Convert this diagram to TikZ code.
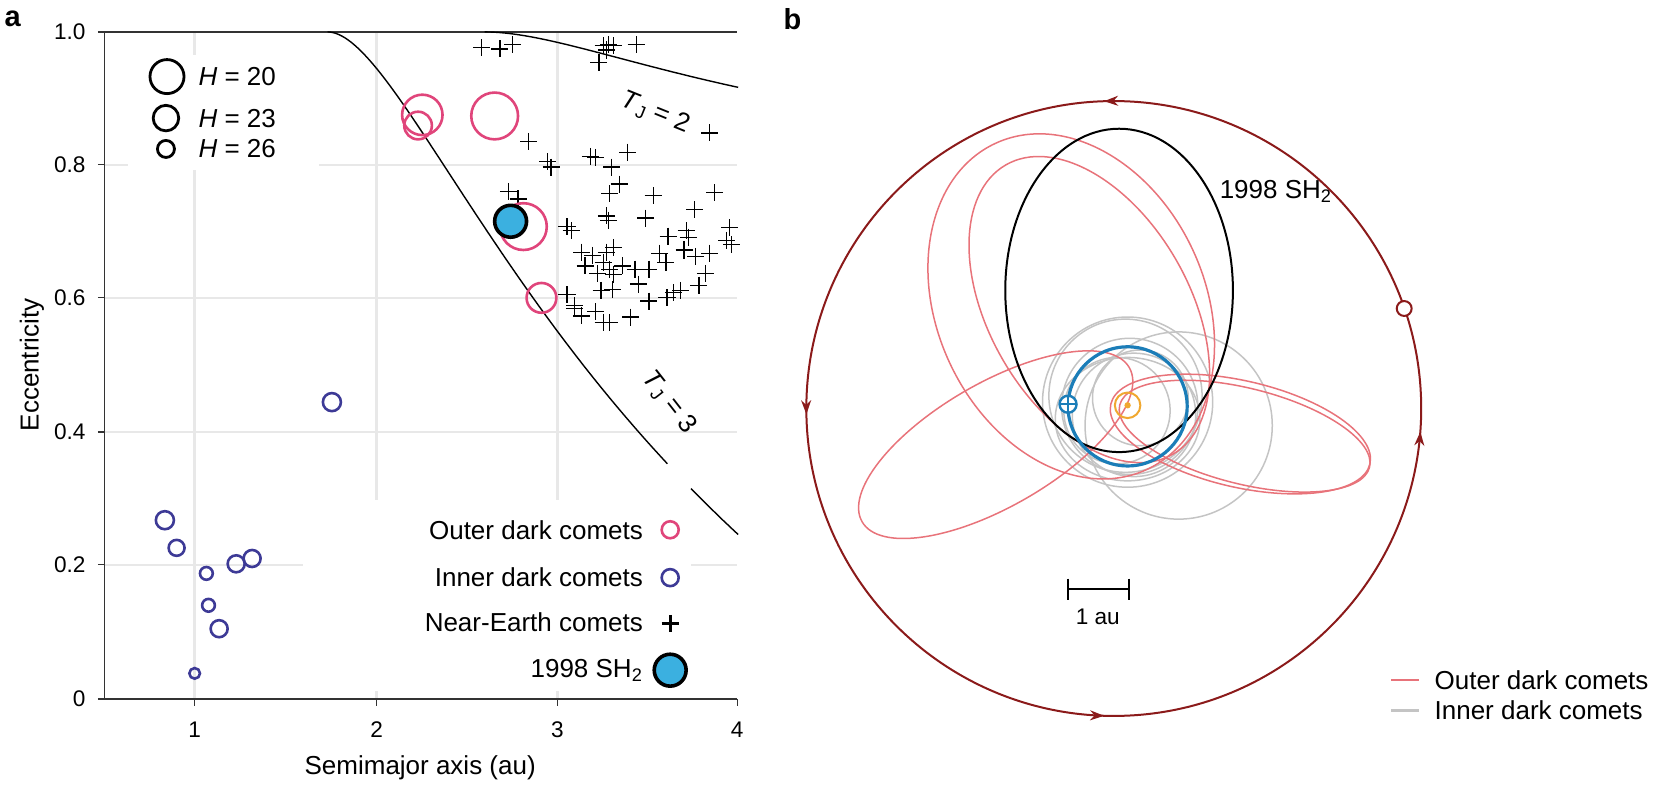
\documentclass[tikz,border=0pt]{standalone}
\usepackage{fontspec}
\setmainfont{Liberation Sans}
\usetikzlibrary{arrows.meta,decorations.markings}
\definecolor{odcPink}{HTML}{E0457B}
\definecolor{idcBlue}{HTML}{3D3A96}
\definecolor{shFill}{HTML}{3BB0E0}
\definecolor{orbRed}{HTML}{E8737A}
\definecolor{orbGray}{HTML}{C4C4C4}
\definecolor{earthBlue}{HTML}{1B7DB8}
\definecolor{sunOrange}{HTML}{F0A830}
\definecolor{jupRed}{HTML}{8B1A1A}
\tikzset{
	gridLine/.style={
		draw=black!9
		,line width=1.2pt
	},
	axisLine/.style={
		draw=black!80
		,line width=0.6pt
	},
	tickLbl/.style={
		font=\fontsize{11.3}{13}\selectfont
	},
	lblText/.style={
		font=\fontsize{13}{15}\selectfont
	},
	odcMark/.style={
		draw=odcPink
		,line width=1.3pt
	},
	idcMark/.style={
		draw=idcBlue
		,line width=1.3pt
	},
	hMark/.style={
		draw=black
		,line width=1.4pt
	},
	necMark/.style={
		draw=black
		,line width=0.6pt
	},
	tjCurve/.style={
		draw=black
		,line width=0.7pt
	},
	odcOrbit/.style={
		draw=orbRed
		,line width=0.75pt
	},
	idcOrbit/.style={
		draw=orbGray
		,line width=0.75pt
	},
	jupTip/.style={
		decoration={markings,
		mark=at position 0.012 with {\arrowreversed{Stealth[length=7pt,width=5pt]}},
		mark=at position 0.255 with {\arrowreversed{Stealth[length=7pt,width=5pt]}},
		mark=at position 0.497 with {\arrowreversed{Stealth[length=7pt,width=5pt]}},
		mark=at position 0.745 with {\arrowreversed{Stealth[length=7pt,width=5pt]}}}
		,postaction={decorate}
	},
}
\begin{document}
\begin{tikzpicture}[x=0.532pt, y=-0.532pt]
\useasboundingbox (0,0) rectangle (1568,739);

% panel labels
\node[font=\fontsize{14.5}{16}\selectfont\bfseries] (pa) at (12,18) {a};
\node[font=\fontsize{14.5}{16}\selectfont\bfseries] (pb) at (745,18) {b};

% ---- panel a: grid
\foreach \gx in {183,354,524}
    \draw[gridLine] (\gx,30) -- (\gx,657);
\foreach \gy in {155,280,406,531}
    \draw[gridLine] (98,\gy) -- (693,\gy);
\fill[white] (120,52) rectangle (300,160);
\fill[white] (285,470) rectangle (650,650);

% axes
\draw[axisLine] (98,30) -- (98,657) -- (693,657);
\draw[axisLine] (98,30) -- (693,30);
\foreach \tv/\ty in {0/657,0.2/531,0.4/406,0.6/280,0.8/155,1.0/30} {
    \draw[axisLine] (92,\ty) -- (98,\ty);
    \node[tickLbl, anchor=east] (yt\ty) at (87,\ty) {\tv};
}
\foreach \tv/\tx in {1/183,2/354,3/524,4/693} {
    \draw[axisLine] (\tx,657) -- (\tx,664);
    \node[tickLbl] (xt\tv) at (\tx,686) {\tv};
}
\node[lblText, rotate=90] (ylab) at (30,343) {Eccentricity};
\node[lblText] (xlab) at (395,722) {Semimajor axis (au)};

% Tisserand curves
\draw[tjCurve] plot[domain=1.7335:3.61, samples=120, smooth]
    ({183+(\x-1)*170.3},{657-627*sqrt(1-(3-5.2/\x)^2*5.2/(4*\x))});
\draw[tjCurve] plot[domain=3.74:4, samples=20, smooth]
    ({183+(\x-1)*170.3},{657-627*sqrt(1-(3-5.2/\x)^2*5.2/(4*\x))});
\draw[tjCurve] plot[domain=2.6:4, samples=60, smooth]
    ({183+(\x-1)*170.3},{657-627*sqrt(1-(2-5.2/\x)^2*5.2/(4*\x))});
\node[lblText, rotate=-22] (tj2) at (616,106) {\textit{T}\textsubscript{J} = 2};
\node[lblText, rotate=-52] (tj3) at (629,378) {\textit{T}\textsubscript{J} = 3};

% near-Earth comets
\foreach \cx/\cy in {453/45,470/46,482/42,567/43,572/42,577/43,598/42,563/59,570/47,
    667/125,497/133,515/152,518/157,555/147,560/148,590/143,575/157,582/173,573/182,
    478/180,487/187,653/197,570/203,572/207,645/217,647/223,533/213,537/217,643/235,
    667/238,688/230,547/237,557/240,570/237,577/233,550/250,567/247,573/253,562/257,
    577/258,597/253,610/253,600/267,565/273,610/283,627/280,633/275,640/273,657/268,
    663/257,533/277,540/287,547/297,567/303,573/303,593/298,614/184,607/205,628/222,
    620/238,626/247,672/181,686/214,683/226,654/241,585/250,576/272,540/290,560/293}
    \draw[necMark] (\cx-8,\cy) -- (\cx+8,\cy) (\cx,\cy-8) -- (\cx,\cy+8);

% outer dark comets
\draw[odcMark] (397,108) circle (19);
\draw[odcMark] (393,118) circle (13);
\draw[odcMark] (465,109) circle (22);
\draw[odcMark] (492,213) circle (22);
\draw[odcMark] (509,280) circle (14);
% inner dark comets
\foreach \ix/\iy/\ir in {312/378/8.5,155/489/8.5,166/515/7.5,194/539/6,196/569/6,
    206/591/8,222/530/8,237/525/8,183/633/5}
    \draw[idcMark] (\ix,\iy) circle (\ir);
% 1998 SH2
\draw[hMark, fill=shFill, line width=1.8pt] (480,208) circle (15);

% size legend
\draw[hMark] (157,72) circle (16);
\draw[hMark] (156,111) circle (12);
\draw[hMark] (156,140) circle (8);
\node[lblText, anchor=west] (h20) at (180,72) {\textit{H} = 20};
\node[lblText, anchor=west] (h23) at (180,111) {\textit{H} = 23};
\node[lblText, anchor=west] (h26) at (180,140) {\textit{H} = 26};

% type legend
\node[lblText, anchor=east] (lodc) at (611,498) {Outer dark comets};
\node[lblText, anchor=east] (lidc) at (611,543) {Inner dark comets};
\node[lblText, anchor=east] (lnec) at (611,585) {Near-Earth comets};
\node[lblText, anchor=east] (lsh) at (611,630) {1998 SH\textsubscript{2}};
\draw[odcMark] (630,498) circle (8);
\draw[idcMark] (630,543) circle (8);
\draw[necMark, line width=1.4pt] (622,586) -- (638,586) (630,578) -- (630,594);
\draw[hMark, fill=shFill, line width=1.8pt] (630,630) circle (15);

% ---- panel b: Jupiter orbit
\draw[draw=jupRed, line width=1pt, jupTip] (1047,384) circle (289);
\draw[draw=jupRed, line width=1pt, fill=white] (1320,290) circle (7);

% inner dark comet orbits
\draw[idcOrbit] (1060,378) circle (80);
\draw[idcOrbit] (1058,372) circle (72);
\draw[idcOrbit] (1062,382) circle (64);
\draw[idcOrbit] (1066,390) circle (58);
\draw[idcOrbit] (1050,386) circle (50);
\draw[idcOrbit] (1072,374) circle (45);
\draw[idcOrbit] (1060,394) ellipse [x radius=68, y radius=58];
\draw[idcOrbit] (1108,400) circle (88);

% outer dark comet orbits
\draw[odcOrbit, shift={(936,418)}, rotate=30] (0,0) ellipse [x radius=145, y radius=58];
\draw[odcOrbit, shift={(1166,408)}, rotate=-13] (0,0) ellipse [x radius=125, y radius=50];
\draw[odcOrbit, shift={(1170,410)}, rotate=-14] (0,0) ellipse [x radius=121, y radius=45];
\draw[odcOrbit, shift={(1007,288)}, rotate=-65] (0,0) ellipse [x radius=169, y radius=126];
\draw[odcOrbit, shift={(1024,291)}, rotate=-60] (0,0) ellipse [x radius=157, y radius=94];

% 1998 SH2 orbit
\draw[line width=1pt] (1052,273) ellipse [x radius=107, y radius=152];
\node[lblText, anchor=west] (lsho) at (1140,180) {1998 SH\textsubscript{2}};

% Earth orbit, Earth and Sun
\draw[draw=earthBlue, line width=1.6pt] (1060,382) circle (56);
\draw[draw=earthBlue, line width=1.2pt, fill=white] (1004,380) circle (8);
\draw[draw=earthBlue, line width=1.2pt] (996,380) -- (1012,380) (1004,372) -- (1004,388);
\draw[draw=sunOrange, line width=1pt] (1060,381) circle (12);
\fill[sunOrange] (1060,381) circle (3);

% scale bar
\draw[line width=1pt] (1004,554) -- (1061,554) (1004,544) -- (1004,564) (1061,544) -- (1061,564);
\node[tickLbl] (lau) at (1032,580) {1 au};

% legend
\draw[odcOrbit, line width=1.2pt] (1308,639) -- (1334,639);
\draw[idcOrbit, line width=1.2pt] (1308,668) -- (1334,668);
\node[lblText, anchor=west] (lodco) at (1342,639) {Outer dark comets};
\node[lblText, anchor=west] (lidco) at (1342,668) {Inner dark comets};
\end{tikzpicture}
\end{document}
